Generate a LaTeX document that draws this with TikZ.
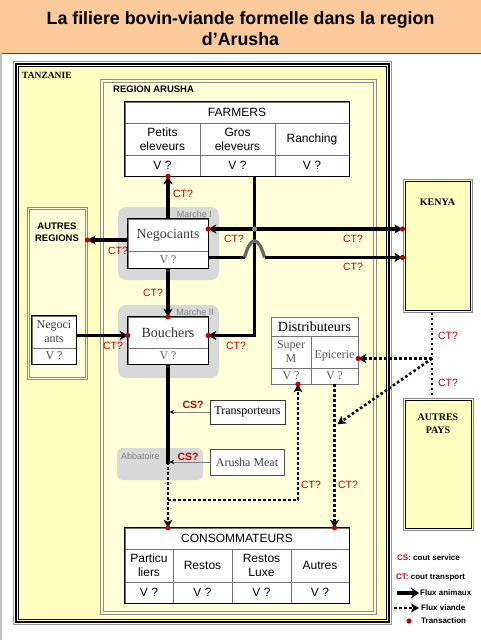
\documentclass[tikz,border=0pt]{standalone}
\usepackage{fontspec}
\setmainfont{Liberation Serif}
\setsansfont{Liberation Sans}
\usetikzlibrary{calc}
\usetikzlibrary{arrows.meta}

\definecolor{titre}{HTML}{FBCA9B}
\definecolor{tanz}{HTML}{FFFFC0}
\definecolor{regfill}{HTML}{FFFFDA}
\definecolor{marche}{HTML}{D9D9D9}
\definecolor{ctred}{HTML}{C00000}

\tikzset{
 cell/.style={draw=black!55, fill=white, inner sep=0, align=center, font=\sffamily\fontsize{12}{14}\selectfont},
 scell/.style={draw=black!55, fill=white, inner sep=0, align=center, font=\fontsize{12}{14}\selectfont},
 animal/.style={line width=3.3pt},
 viande/.style={line width=2.6pt, dash pattern=on 2.6pt off 2.4pt},
 ct/.style={text=ctred, inner sep=0, font=\sffamily\fontsize{10.5}{11}\selectfont},
 leg/.style={inner sep=0, anchor=west, font=\sffamily\bfseries\fontsize{8}{9}\selectfont},
 pays/.style={draw=black!45, line width=1pt, fill=tanz, inner sep=0},
 service/.style={black!50, line width=.8pt, -{Stealth[length=4.5pt,width=4.5pt,color=black]}},
}
\newcommand\ptrans[1]{\fill[ctred] (#1) circle (2.6pt);}

\begin{document}
\begin{tikzpicture}[x=1pt, y=-1pt, >={Stealth[length=8pt,width=9pt,inset=2pt]}]
\useasboundingbox (0,0) rectangle (481,640);

% titre
\fill[titre] (0,0) rectangle (481,53);
\draw[black!70] (0,53) -- (481,53);
\draw[black!25, line width=2pt] (1,53) -- (1,640);
\node[font=\sffamily\bfseries\fontsize{17.8}{20.5}\selectfont, align=center] (titre) at (240.5,28.5)
 {La filiere bovin-viande formelle dans la region\\d’Arusha};

% Tanzanie et region
\fill[tanz] (15,63) rectangle (390,623);
\draw[black!40, line width=1.2pt] (13.5,61.5) rectangle (391.5,624.5);
\draw[line width=1.4pt] (16,64) rectangle (389,622);
\draw[line width=.6pt] (18.5,66.5) rectangle (386.5,619.5);
\node[font=\bfseries\fontsize{9.5}{10}\selectfont, anchor=west, inner sep=0] (tz) at (22,75) {TANZANIE};

\fill[regfill] (100,79) rectangle (376,614);
\draw[black!45] (100,79) rectangle (376,614);
\draw[black!45] (103,82) rectangle (373,611);
\node[font=\sffamily\bfseries\fontsize{9.5}{10}\selectfont, anchor=west, inner sep=0] (reg) at (113,89) {REGION ARUSHA};

% autres regions, Kenya, autres pays
\node[pays, fill=regfill, minimum width=60pt, minimum height=172pt] (aregions) at (57,293) {};
\draw[black!45] ([shift={(2.5,2.5)}]aregions.north west) rectangle ([shift={(-2.5,-2.5)}]aregions.south east);
\node[font=\sffamily\bfseries\fontsize{9.5}{11.5}\selectfont, align=center] (aregtxt) at (57,232) {AUTRES\\REGIONS};

\node[pays, minimum width=69pt, minimum height=133pt] (kenya) at (437.5,245.5) {};
\draw[line width=1pt] ([shift={(2.5,2.5)}]kenya.north west) rectangle ([shift={(-2.5,-2.5)}]kenya.south east);
\node[font=\bfseries\fontsize{10}{11}\selectfont] (kenyatxt) at (437.5,202) {KENYA};

\node[pays, minimum width=70pt, minimum height=132pt] (apays) at (438,464) {};
\draw[line width=1pt] ([shift={(2.5,2.5)}]apays.north west) rectangle ([shift={(-2.5,-2.5)}]apays.south east);
\node[font=\bfseries\fontsize{10}{12.5}\selectfont, align=center] (apaystxt) at (438,423.5) {AUTRES\\PAYS};

% marches
\fill[marche, rounded corners=8pt] (118,207) rectangle (219,280);
\node[font=\sffamily\fontsize{9}{10}\selectfont, text=black!50, anchor=east, inner sep=0] (m1) at (212,214) {Marche I};
\fill[marche, rounded corners=8pt] (118,305) rectangle (219,378);
\node[font=\sffamily\fontsize{9}{10}\selectfont, text=black!50, anchor=east, inner sep=0] (m2) at (214,312) {Marche II};
\fill[marche, rounded corners=6pt] (117,448) rectangle (203,480);
\node[font=\sffamily\fontsize{9}{10}\selectfont, text=black!50, anchor=west, inner sep=0] (abb) at (121,456) {Abbatoire};

% farmers
\node[cell, minimum width=224pt, minimum height=21pt] (farmers) at (237,112.5) {FARMERS};
\node[cell, minimum width=75pt, minimum height=32pt] (fpet) at (162.5,139) {Petits\\eleveurs};
\node[cell, minimum width=75pt, minimum height=32pt] (fgros) at (237.5,139) {Gros\\eleveurs};
\node[cell, minimum width=74pt, minimum height=32pt] (franch) at (312,139) {Ranching};
\foreach \x/\w [count=\i] in {162.5/75,237.5/75,312/74}
 \node[cell, minimum width=\w pt, minimum height=21pt] (fv\i) at (\x,165.5) {V ?};
\draw[line width=1pt] (farmers.north west) rectangle (fv3.south east);

% consommateurs
\node[cell, minimum width=224pt, minimum height=21pt] (cons) at (237,538.5) {CONSOMMATEURS};
\node[cell, minimum width=48pt, minimum height=33pt] (cpar) at (149,565.5) {Particu\\liers};
\node[cell, minimum width=59pt, minimum height=33pt] (cres) at (202.5,565.5) {Restos};
\node[cell, minimum width=59pt, minimum height=33pt] (clux) at (261.5,565.5) {Restos\\Luxe};
\node[cell, minimum width=58pt, minimum height=33pt] (caut) at (320,565.5) {Autres};
\foreach \x/\w [count=\i] in {149/48,202.5/59,261.5/59,320/58}
 \node[cell, minimum width=\w pt, minimum height=21pt] (cv\i) at (\x,592.5) {V ?};
\draw[line width=1pt] (cons.north west) rectangle (cv4.south east);

% negociants, bouchers
\node[scell, minimum width=80pt, minimum height=32pt, text=black!75, font=\fontsize{14}{15}\selectfont] (negociants) at (168,235) {Negociants};
\node[scell, minimum width=80pt, minimum height=17pt, text=black!60] (negv) at (168,259.5) {V ?};
\draw[line width=.9pt] (negociants.north west) rectangle (negv.south east);
\node[scell, minimum width=80pt, minimum height=31pt, text=black!80, font=\fontsize{14}{15}\selectfont] (bouchers) at (168,332.5) {Bouchers};
\node[scell, minimum width=80pt, minimum height=16pt, text=black!60] (bouv) at (168,356) {V ?};
\draw[line width=.9pt] (bouchers.north west) rectangle (bouv.south east);
\node[scell, minimum width=44pt, minimum height=32pt, text=black!75] (negl) at (54,332) {Negoci\\ants};
\node[scell, minimum width=44pt, minimum height=16pt, text=black!70] (neglv) at (54,356) {V ?};
\draw[line width=.9pt] (negl.north west) rectangle (neglv.south east);

% distributeurs
\node[scell, minimum width=87pt, minimum height=19pt, font=\fontsize{14}{15}\selectfont] (dist) at (314.5,326.5) {Distributeurs};
\node[scell, minimum width=40pt, minimum height=32pt, text=black!65] (dsup) at (291,352) {Super\\M};
\node[scell, minimum width=47pt, minimum height=32pt, text=black!65, anchor=north] (depi) at (334.5,336) {\rule{0pt}{15pt}Epicerie};
\node[scell, minimum width=40pt, minimum height=16pt, text=black!65] (dsv) at (291,376) {V ?};
\node[scell, minimum width=47pt, minimum height=16pt, text=black!65] (dev) at (334.5,376) {V ?};

\node[scell, draw=black!80, minimum width=75pt, minimum height=24pt] (trans) at (247.5,412) {Transporteurs};
\node[scell, draw=black!70, minimum width=74pt, minimum height=26pt, text=black!75] (ameat) at (247,462) {Arusha Meat};

% flux animaux
\coordinate (gx) at ([xshift=17pt]fv2.south);
\coordinate (be) at ([yshift=-3pt]bouchers.east);
\draw[animal,->] (gx) -- (gx |- be) -- (be);
\ptrans{be}
\node[ct] (ct3) at (236,346) {CT?};

\draw[animal,->] (negociants.north) -- (negociants.north |- fv1.south);
\ptrans{negociants.north |- fv1.south}
\node[ct] (ct1) at (183,194) {CT?};

\coordinate (nw) at ([yshift=-5pt]negociants.west);
\draw[animal,->] (nw) -- (nw -| aregions.east);
\ptrans{nw -| aregions.east}
\node[ct] (ct2) at (118,251) {CT?};

\coordinate (nk) at ([yshift=6pt]negociants.east);
\draw[animal,<->] (nk) -- (nk -| kenya.west);
\ptrans{nk}
\ptrans{nk -| kenya.west}
\fill[black!45] (nk -| gx) circle (2.6pt);
\node[ct] (ct4) at (234,239) {CT?};
\node[ct] (ct5) at (353,239) {CT?};

\coordinate (nl) at ([yshift=2pt]negv.east);
\draw[animal] (nl) -- ($(nl -| gx)+(-10,0)$);
\draw[animal, black!60] ($(nl -| gx)+(-10,0)$) .. controls ($(nl -| gx)+(-4,-22)$) and ($(nl -| gx)+(4,-22)$) .. ($(nl -| gx)+(10,0)$);
\draw[animal,->] ($(nl -| gx)+(10,0)$) -- (nl -| kenya.west);
\ptrans{nl -| kenya.west}
\node[ct] (ct6) at (353,267) {CT?};

\draw[animal,->] (negv.south) -- (bouchers.north);
\ptrans{bouchers.north}
\node[ct] (ct7) at (153,293) {CT?};

\coordinate (bw) at ([yshift=-3pt]bouchers.west);
\draw[animal,->] (negl.east |- bw) -- (bw);
\ptrans{bw}
\node[ct] (ct8) at (113,346) {CT?};

\coordinate (abt) at (bouv.south |- ameat.west);
\draw[animal] (bouv.south) -- ([yshift=-2pt]abt);

% services
\draw[service] (trans.west) -- ([xshift=1.6pt]trans.west -| bouv.south);
\node[ct, font=\sffamily\bfseries\fontsize{10.5}{11}\selectfont] (cs1) at (193,405) {CS?};
\draw[service] (ameat.west) -- ([xshift=1.6pt]abt);
\node[ct, font=\sffamily\bfseries\fontsize{10.5}{11}\selectfont] (cs2) at (188,457) {CS?};

% flux viande
\draw[viande,->] (abt) -- (abt |- cons.north);
\ptrans{abt |- cons.north}
\coordinate (vs) at ($(abt)+(0,38)$);
\coordinate (sm) at ([xshift=7pt]dsv.south);
\draw[viande,->] (vs) -- (vs -| sm) -- (sm);
\ptrans{sm}
\node[ct] (ct9) at (311,485) {CT?};
\draw[viande,->] (dev.south) -- (dev.south |- cons.north);
\ptrans{dev.south |- cons.north}
\node[ct] (ct10) at (348,485) {CT?};

\coordinate (jn) at ($(kenya.south)+(-5.5,46)$);
\draw[viande] (kenya.south -| jn) -- (apays.north -| jn);
\draw[viande,->] (jn) -- (jn -| depi.east);
\ptrans{jn -| depi.east}
\draw[viande,->] (jn) -- ($(dev.south)+(3,40)$);
\node[ct] (ct11) at (448,336) {CT?};
\node[ct] (ct12) at (448,383) {CT?};

% legende
\node[leg] (lcs) at (397,558) {\textcolor{ctred}{CS:} cout service};
\node[leg] (lct) at (396,578) {\textcolor{ctred}{CT:} cout transport};
\node[leg] (lfa) at (420,593) {Flux animaux};
\draw[line width=4.5pt, -{Stealth[length=8pt,width=11pt]}] ([xshift=-23pt]lfa.west) -- ([xshift=-1pt]lfa.west);
\node[leg] (lfv) at (421,608) {Flux viande};
\draw[viande,->] ([xshift=-27pt]lfv.west) -- ([xshift=-2pt]lfv.west);
\node[leg] (ltr) at (421,621) {Transaction};
\ptrans{$(ltr.west)+(-12,0)$}
\end{tikzpicture}
\end{document}
